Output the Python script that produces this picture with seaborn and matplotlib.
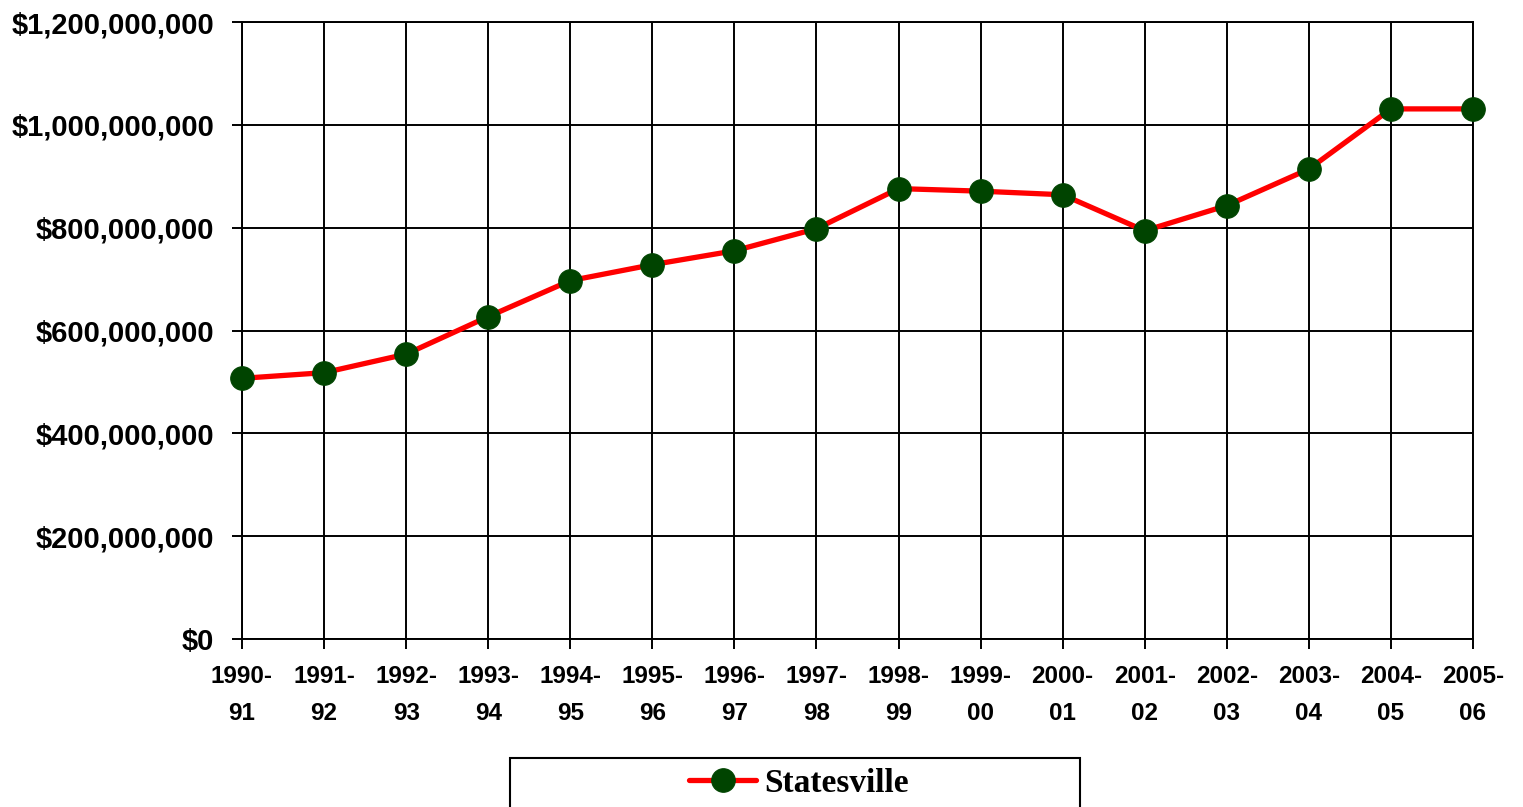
import matplotlib
matplotlib.use("Agg")
import matplotlib.pyplot as plt
import matplotlib.ticker as mticker
from matplotlib.patches import Rectangle
import seaborn as sns
import pandas as pd

# school years on the x axis
years = ["1990-\n91", "1991-\n92", "1992-\n93", "1993-\n94", "1994-\n95", "1995-\n96",
         "1996-\n97", "1997-\n98", "1998-\n99", "1999-\n00", "2000-\n01", "2001-\n02",
         "2002-\n03", "2003-\n04", "2004-\n05", "2005-\n06"]
# Statesville values (dollars)
statesville = [507e6, 518e6, 554e6, 627e6, 697e6, 728e6, 755e6, 798e6,
               876e6, 871e6, 864e6, 794e6, 843e6, 914e6, 1031e6, 1031e6]

df = pd.DataFrame({"year": years, "value": statesville})

sns.set_style("white")
plt.rcParams["font.family"] = ["Liberation Sans", "DejaVu Sans"]
plt.rcParams["text.color"] = "black"
plt.rcParams["xtick.color"] = "black"
plt.rcParams["ytick.color"] = "black"

fig = plt.figure(figsize=(15.23, 8.07), dpi=100)
ax = fig.add_axes([242 / 1523, 1 - 639 / 807, (1473 - 242) / 1523, (639 - 22) / 807])

sns.lineplot(data=df, x="year", y="value", ax=ax, color="#ff0000", linewidth=3.8,
             marker="o", markersize=17, markerfacecolor="#004400",
             markeredgecolor="#004400", label="Statesville", legend=False, sort=False,
             clip_on=False, zorder=5)

ax.set_xlim(0, len(years) - 1)
ax.set_ylim(0, 1.2e9)
ax.yaxis.set_major_locator(mticker.MultipleLocator(2e8))
ax.yaxis.set_major_formatter(mticker.FuncFormatter(lambda v, p: f"${v:,.0f}"))
ax.set_xlabel("")
ax.set_ylabel("")

ax.grid(True, color="black", linewidth=1.4)
for s in ax.spines.values():
    s.set_color("black")
    s.set_linewidth(1.4)
ax.tick_params(axis="both", direction="out", length=7, width=1.4, color="black",
               bottom=True, left=True, labelcolor="black")
ax.tick_params(axis="y", labelsize=21, pad=13)
ax.tick_params(axis="x", labelsize=17.5, pad=12)
for lab in ax.get_yticklabels() + ax.get_xticklabels():
    lab.set_fontweight("bold")
for lab in ax.get_xticklabels():
    lab.set_linespacing(1.75)

# legend box at the bottom
fig.patches.append(Rectangle((510 / 1523, -0.05), 570 / 1523, 0.05 + (807 - 758) / 807,
                             transform=fig.transFigure, fill=False,
                             edgecolor="black", linewidth=1.5))
handles, labels = ax.get_legend_handles_labels()
fig.legend(handles, labels, loc="center", bbox_to_anchor=(799 / 1523, 1 - 783 / 807),
           frameon=False, handlelength=2.0, handletextpad=0.25,
           prop={"family": ["Liberation Serif", "DejaVu Serif"], "weight": "bold", "size": 24})

fig.savefig("out.png", dpi=100)
